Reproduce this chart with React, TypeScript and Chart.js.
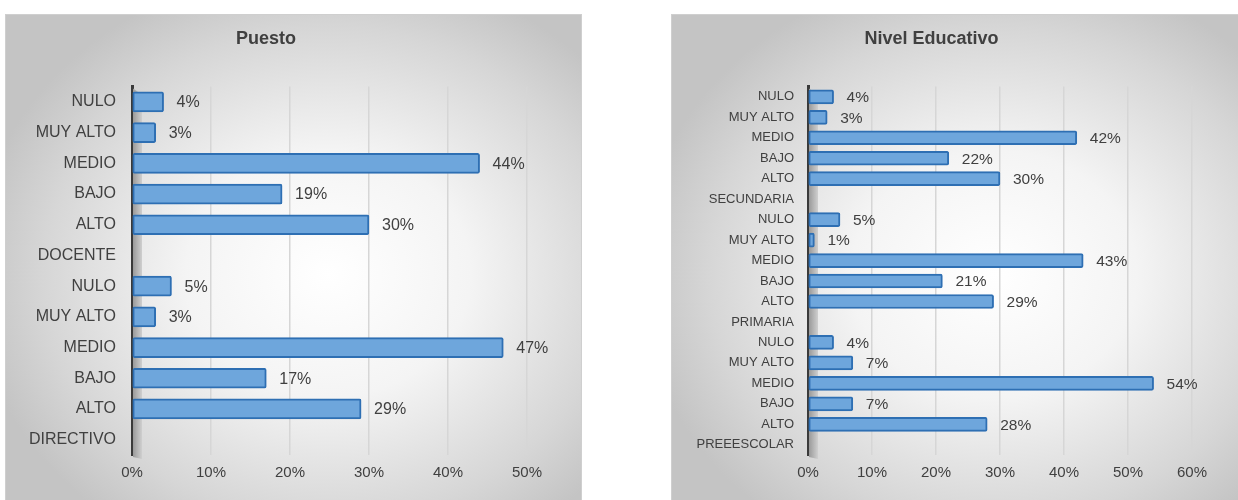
import React, { useEffect, useRef } from "react";
import { Chart, registerables } from "chart.js";

Chart.register(...registerables);

const puestoTitle = "Puesto";
const puestoLabels = ["NULO", "MUY ALTO", "MEDIO", "BAJO", "ALTO", "DOCENTE", "NULO", "MUY ALTO", "MEDIO", "BAJO", "ALTO", "DIRECTIVO"];
const puestoValues: (number | null)[] = [4, 3, 44, 19, 30, null, 5, 3, 47, 17, 29, null];
const puestoMax = 50;

const nivelTitle = "Nivel Educativo";
const nivelLabels = [
  "NULO", "MUY ALTO", "MEDIO", "BAJO", "ALTO", "SECUNDARIA",
  "NULO", "MUY ALTO", "MEDIO", "BAJO", "ALTO", "PRIMARIA",
  "NULO", "MUY ALTO", "MEDIO", "BAJO", "ALTO", "PREEESCOLAR",
];
const nivelValues: (number | null)[] = [4, 3, 42, 22, 30, null, 5, 1, 43, 21, 29, null, 4, 7, 54, 7, 28, null];
const nivelMax = 60;

const FONT = "'Liberation Sans', Arial, sans-serif";
const TEXT = "#404040";

const wallPlugin = {
  id: "wall3d",
  beforeDatasetsDraw(chart: any) {
    const { ctx, chartArea } = chart;
    const x = chartArea.left + 1;
    const g = ctx.createLinearGradient(x, 0, x + 9, 0);
    g.addColorStop(0, "#9a9a9a");
    g.addColorStop(1, "#cfcfcf");
    ctx.save();
    ctx.fillStyle = g;
    ctx.beginPath();
    ctx.moveTo(x, chartArea.top + 2);
    ctx.lineTo(x + 9, chartArea.top + 8);
    ctx.lineTo(x + 9, chartArea.bottom + 4);
    ctx.lineTo(x, chartArea.bottom + 2);
    ctx.closePath();
    ctx.fill();
    ctx.restore();
  },
};

const labelPlugin = {
  id: "valueLabels",
  afterDatasetsDraw(chart: any) {
    const { ctx } = chart;
    const opts = chart.options.plugins.valueLabels || {};
    const meta = chart.getDatasetMeta(0);
    const data = chart.data.datasets[0].data;
    ctx.save();
    ctx.font = `${opts.size || 15}px ${FONT}`;
    ctx.fillStyle = TEXT;
    ctx.textAlign = "left";
    ctx.textBaseline = "middle";
    meta.data.forEach((bar: any, i: number) => {
      const v = data[i];
      if (v === null || v === undefined) return;
      ctx.fillText(`${v}%`, bar.x + (opts.gap || 13), bar.y + 1);
    });
    ctx.restore();
  },
};

function BarPanel(props: {
  title: string;
  labels: string[];
  values: (number | null)[];
  max: number;
  left: number;
  axisWidth: number;
  padRight: number;
  barThickness: number;
  catSize: number;
  valSize: number;
  labelPad: number;
}) {
  const ref = useRef<HTMLCanvasElement | null>(null);
  useEffect(() => {
    if (!ref.current) return;
    const chart = new Chart(ref.current, {
      type: "bar",
      data: {
        labels: props.labels,
        datasets: [
          {
            data: props.values as any,
            backgroundColor: "#6ea6dc",
            borderColor: "#2e6fb3",
            borderWidth: 2,
            borderRadius: 2,
            borderSkipped: false,
            barThickness: props.barThickness,
          },
        ],
      },
      options: {
        indexAxis: "y",
        responsive: false,
        animation: false,
        layout: { padding: { left: 0, right: props.padRight, top: 0, bottom: 0 } },
        plugins: {
          legend: { display: false },
          tooltip: { enabled: false },
          title: {
            display: true,
            text: props.title,
            color: TEXT,
            font: { family: FONT, size: 18, weight: "bold" },
            padding: { top: 14, bottom: 37 },
          },
          valueLabels: { size: props.valSize, gap: 13 },
        } as any,
        scales: {
          x: {
            min: 0,
            max: props.max,
            ticks: {
              stepSize: 10,
              color: TEXT,
              padding: 9,
              font: { family: FONT, size: 15 },
              callback: (v: any) => `${v}%`,
            },
            grid: { color: "#d6d6d6", lineWidth: 1.5, drawTicks: false },
            border: { display: false },
            afterFit: (s: any) => {
              s.height = 45;
            },
          },
          y: {
            ticks: {
              color: TEXT,
              padding: props.labelPad,
              autoSkip: false,
              font: { family: FONT, size: props.catSize },
            },
            grid: { display: false, drawTicks: false },
            border: { display: true, color: "#3a3a3a", width: 3 },
            afterFit: (s: any) => {
              s.width = props.axisWidth;
            },
          },
        },
      },
      plugins: [wallPlugin, labelPlugin],
    });
    return () => chart.destroy();
  }, []);

  return (
    <div
      style={{
        position: "absolute",
        left: props.left,
        top: 14,
        width: 577,
        height: 500,
        boxSizing: "border-box",
        border: "1px solid #cfcfcf",
        background:
          "radial-gradient(ellipse 62% 62% at 56% 52%, #ffffff 0%, #f4f4f4 40%, #d6d6d6 80%, #c4c4c4 100%)",
      }}
    >
      <canvas ref={ref} width={577} height={486} style={{ position: "absolute", left: -1, top: -1 }} />
    </div>
  );
}

export default function App() {
  return (
    <div style={{ position: "absolute", left: 0, top: 0, width: 1238, height: 500, overflow: "hidden", background: "#ffffff" }}>
      <BarPanel
        title={puestoTitle}
        labels={puestoLabels}
        values={puestoValues}
        max={puestoMax}
        left={5}
        axisWidth={127}
        padRight={55}
        barThickness={20}
        catSize={16}
        valSize={16}
        labelPad={16}
      />
      <BarPanel
        title={nivelTitle}
        labels={nivelLabels}
        values={nivelValues}
        max={nivelMax}
        left={671}
        axisWidth={137}
        padRight={56}
        barThickness={14}
        catSize={13}
        valSize={15.5}
        labelPad={14}
      />
    </div>
  );
}
